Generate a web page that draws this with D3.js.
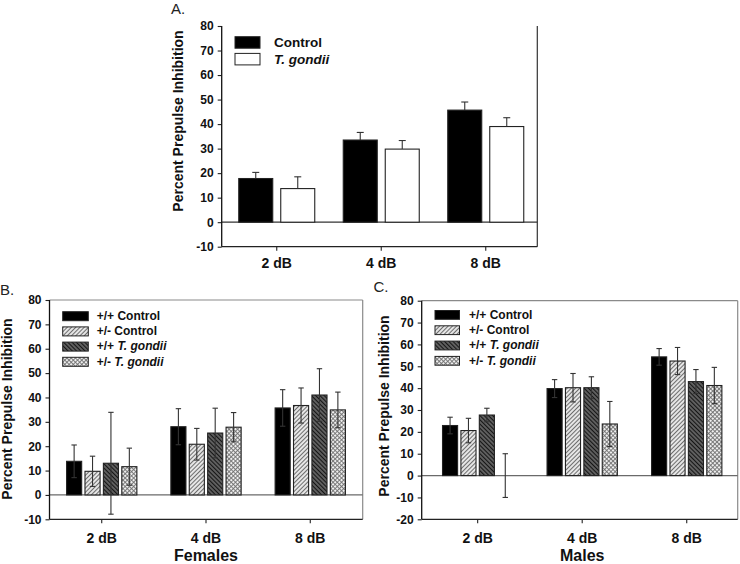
<!DOCTYPE html>
<html><head><meta charset="utf-8">
<script src="https://cdn.jsdelivr.net/npm/d3@7"></script>
<style>body{margin:0;background:#fff} svg{display:block;font-family:"Liberation Sans",Arial,sans-serif}</style>
</head><body><svg id="c" width="740" height="564"></svg>
<script>
// ---------------- data ----------------
const categories = ["2 dB", "4 dB", "8 dB"];

const seriesA = ["Control", "T. gondii"];
const controlA = [17.8, 33.5, 45.7];
const controlAErr = [2.5, 3.1, 3.3];
const gondiiA = [13.7, 29.8, 39.0];
const gondiiAErr = [4.8, 3.5, 3.6];

const seriesBC = ["+/+ Control", "+/- Control", "+/+ T. gondii", "+/- T. gondii"];

const femPPControl = [13.8, 28.0, 35.7];
const femPPControlErr = [6.7, 7.4, 7.5];
const femPMControl = [9.7, 20.8, 36.7];
const femPMControlErr = [6.2, 6.5, 7.2];
const femPPGondii = [13.0, 25.4, 41.0];
const femPPGondiiErr = [20.9, 10.2, 10.8];
const femPMGondii = [11.6, 27.8, 34.9];
const femPMGondiiErr = [7.6, 6.0, 7.3];

const malPPControl = [22.9, 39.8, 54.3];
const malPPControlErr = [3.8, 4.1, 3.8];
const malPMControl = [20.6, 40.2, 52.4];
const malPMControlErr = [5.6, 6.5, 6.2];
const malPPGondii = [27.7, 40.2, 43.0];
const malPPGondiiErr = [3.1, 5.0, 5.5];
const malPMGondii = [0.0, 23.6, 41.2];
const malPMGondiiErr = [10.0, 10.3, 8.3];

const yTicksAB = [-10, 0, 10, 20, 30, 40, 50, 60, 70, 80];
const yTicksC = [-20, -10, 0, 10, 20, 30, 40, 50, 60, 70, 80];

const yTitle = "Percent Prepulse Inhibition";

// ---------------- drawing ----------------
const svg = d3.select("#c");
const FONT = '"Liberation Sans", Arial, sans-serif';
const defs = svg.append("defs");

function hatch(id, size, rot, bg, lines) {
  const p = defs.append("pattern").attr("id", id).attr("patternUnits", "userSpaceOnUse")
    .attr("width", size).attr("height", size).attr("patternTransform", `rotate(${rot})`);
  p.append("rect").attr("width", size).attr("height", size).attr("fill", bg);
  lines.forEach(l => p.append("line").attr("x1", l[0]).attr("y1", l[1]).attr("x2", l[2]).attr("y2", l[3])
    .attr("stroke", l[4]).attr("stroke-width", l[5]));
}
hatch("hatchL", 3, 45, "#e6e6e6", [[0.5, 0, 0.5, 3, "#6e6e6e", 1]]);
hatch("hatchD", 3, -45, "#606060", [[0.5, 0, 0.5, 3, "#151515", 1.1]]);
hatch("cross", 3, 45, "#efefef", [[0.5, 0, 0.5, 3, "#707070", 0.9], [0, 0.5, 3, 0.5, "#707070", 0.9]]);

const fillsBC = ["#000", "url(#hatchL)", "url(#hatchD)", "url(#cross)"];
const fillsA = ["#000", "#fff"];

function labelWithItalic(sel, s) {
  const i = s.indexOf("T. gondii");
  if (i < 0) { sel.text(s); return; }
  if (i > 0) sel.append("tspan").text(s.slice(0, i));
  sel.append("tspan").attr("font-style", "italic").text("T. gondii");
}

function panel(o) {
  const g = svg.append("g");
  const y = d3.scaleLinear().domain(o.yDomain).range([o.bottom, o.top]);
  const x0 = d3.scaleBand().domain(categories).range([o.xStart, o.xEnd]);
  const x1 = d3.scaleBand().domain(d3.range(o.series.length)).range([0, o.groupW]).paddingInner(o.pad);

  // frame
  if (o.topLine) g.append("line").attr("x1", o.left).attr("x2", o.right).attr("y1", o.top).attr("y2", o.top)
    .attr("stroke", o.frameColor).attr("stroke-width", 1.2);
  g.append("line").attr("x1", o.right).attr("x2", o.right).attr("y1", o.top).attr("y2", o.bottom)
    .attr("stroke", o.frameColor).attr("stroke-width", 1.2);
  g.append("line").attr("x1", o.left).attr("x2", o.right).attr("y1", o.bottom).attr("y2", o.bottom)
    .attr("stroke", "#222").attr("stroke-width", 1.2);
  g.append("line").attr("x1", o.left).attr("x2", o.right).attr("y1", y(0)).attr("y2", y(0))
    .attr("stroke", o.zeroColor).attr("stroke-width", 1.2);

  // bars
  const rows = [];
  categories.forEach((c, ci) => o.series.forEach((s, si) =>
    rows.push({ c, si, v: o.values[si][ci], e: o.errs[si][ci] })));
  const bx = d => x0(d.c) + x0.bandwidth() / 2 - o.groupW / 2 + x1(d.si);
  const bw = x1.bandwidth();

  g.selectAll("rect.bar").data(rows).join("rect").attr("class", "bar")
    .attr("x", bx).attr("width", bw)
    .attr("y", d => y(Math.max(0, d.v))).attr("height", d => Math.abs(y(d.v) - y(0)))
    .attr("fill", d => o.fills[d.si]).attr("stroke", "#222").attr("stroke-width", 1.1);

  // error bars
  const eb = g.selectAll("g.err").data(rows).join("g").attr("class", "err")
    .attr("stroke", "#333").attr("stroke-width", 1.1);
  eb.append("line")
    .attr("x1", d => bx(d) + bw / 2).attr("x2", d => bx(d) + bw / 2)
    .attr("y1", d => o.twoSided ? y(d.v - d.e) : y(d.v)).attr("y2", d => y(d.v + d.e));
  eb.append("line")
    .attr("x1", d => bx(d) + bw / 2 - o.cap).attr("x2", d => bx(d) + bw / 2 + o.cap)
    .attr("y1", d => y(d.v + d.e)).attr("y2", d => y(d.v + d.e));
  if (o.twoSided) eb.append("line")
    .attr("x1", d => bx(d) + bw / 2 - o.cap).attr("x2", d => bx(d) + bw / 2 + o.cap)
    .attr("y1", d => y(d.v - d.e)).attr("y2", d => y(d.v - d.e));

  // left axis
  const ya = g.append("g").attr("transform", `translate(${o.left},0)`)
    .call(d3.axisLeft(y).tickValues(o.yTicks).tickSize(4).tickPadding(4).tickFormat(d => String(d)));
  ya.select(".domain").remove();
  ya.attr("font-family", FONT);
  ya.selectAll("text").attr("font-size", 12).attr("font-weight", "bold").attr("fill", "#111");
  ya.selectAll("line").attr("stroke", "#222").attr("stroke-width", 1.1);
  g.append("line").attr("x1", o.left).attr("x2", o.left).attr("y1", o.top).attr("y2", o.bottom)
    .attr("stroke", "#111").attr("stroke-width", 1.3);

  // bottom axis
  const xa = g.append("g").attr("transform", `translate(0,${o.bottom})`)
    .call(d3.axisBottom(x0).tickSize(4).tickSizeOuter(0));
  xa.select(".domain").remove();
  xa.attr("font-family", FONT);
  xa.selectAll("line").attr("stroke", "#222").attr("stroke-width", 1.1);
  xa.selectAll("text").attr("dy", null).attr("y", o.catOffset)
    .attr("font-size", 14).attr("font-weight", "bold").attr("fill", "#111");

  if (o.xTitle) g.append("text").attr("x", x0(categories[1]) + x0.bandwidth() / 2).attr("y", o.xTitleY)
    .attr("text-anchor", "middle").attr("font-size", 16).attr("font-weight", "bold").attr("fill", "#111")
    .text(o.xTitle);

  // y title
  g.append("text").attr("transform", `translate(${o.yTitleX},${o.yTitleY}) rotate(-90)`)
    .attr("text-anchor", "middle").attr("font-size", 14).attr("font-weight", "bold").attr("fill", "#111")
    .text(yTitle);

  // panel letter
  g.append("text").attr("x", o.letterX).attr("y", o.letterY).attr("font-size", 15).attr("fill", "#222")
    .text(o.letter);

  // legend
  const lg = g.selectAll("g.leg").data(o.series).join("g").attr("class", "leg")
    .attr("transform", (d, i) => `translate(${o.legX},${o.legY + i * o.legStep})`);
  lg.append("rect").attr("width", o.legW).attr("height", o.legH)
    .attr("fill", (d, i) => o.fills[i]).attr("stroke", "#222").attr("stroke-width", 1);
  lg.append("text").attr("x", o.legTextDx).attr("y", o.legTextDy)
    .attr("font-size", o.legFont).attr("font-weight", "bold").attr("fill", "#111")
    .each(function (d) { labelWithItalic(d3.select(this), d); });
}

panel({
  letter: "A.", letterX: 171, letterY: 14,
  series: seriesA, values: [controlA, gondiiA], errs: [controlAErr, gondiiAErr], fills: fillsA,
  yDomain: [-10, 80], yTicks: yTicksAB, top: 26, bottom: 246.7, left: 221.7, right: 537.3,
  xStart: 224.5, xEnd: 538, groupW: 76, pad: 8 / 42, cap: 3.5, twoSided: false,
  topLine: false, frameColor: "#333", zeroColor: "#333",
  catOffset: 21.5, xTitle: null,
  yTitleX: 183, yTitleY: 121,
  legX: 235, legY: 36.7, legStep: 16.7, legW: 25, legH: 11.5, legTextDx: 39, legTextDy: 10.6, legFont: 13.5
});

panel({
  letter: "B.", letterX: 0, letterY: 295,
  series: seriesBC, values: [femPPControl, femPMControl, femPPGondii, femPMGondii],
  errs: [femPPControlErr, femPMControlErr, femPPGondiiErr, femPMGondiiErr], fills: fillsBC,
  yDomain: [-10, 80], yTicks: yTicksAB, top: 300, bottom: 519.3, left: 49.5, right: 362.7,
  xStart: 49.6, xEnd: 362.4, groupW: 70.3, pad: 0.18, cap: 2.7, twoSided: true,
  topLine: true, frameColor: "#8a8a8a", zeroColor: "#6a6a6a",
  catOffset: 23.4, xTitle: "Females", xTitleY: 561,
  yTitleX: 12, yTitleY: 409,
  legX: 62.7, legY: 311.7, legStep: 15.2, legW: 25.6, legH: 9, legTextDx: 34, legTextDy: 8.3, legFont: 12
});

panel({
  letter: "C.", letterX: 373.5, letterY: 292,
  series: seriesBC, values: [malPPControl, malPMControl, malPPGondii, malPMGondii],
  errs: [malPPControlErr, malPMControlErr, malPPGondiiErr, malPMGondiiErr], fills: fillsBC,
  yDomain: [-20, 80], yTicks: yTicksC, top: 300.7, bottom: 519.3, left: 421.7, right: 737.7,
  xStart: 425.4, xEnd: 739, groupW: 70.3, pad: 0.18, cap: 2.7, twoSided: true,
  topLine: true, frameColor: "#8a8a8a", zeroColor: "#6a6a6a",
  catOffset: 23.4, xTitle: "Males", xTitleY: 561,
  yTitleX: 389, yTitleY: 406,
  legX: 435, legY: 310.5, legStep: 15.3, legW: 24.5, legH: 8.8, legTextDx: 34, legTextDy: 8.3, legFont: 12
});
</script></body></html>
